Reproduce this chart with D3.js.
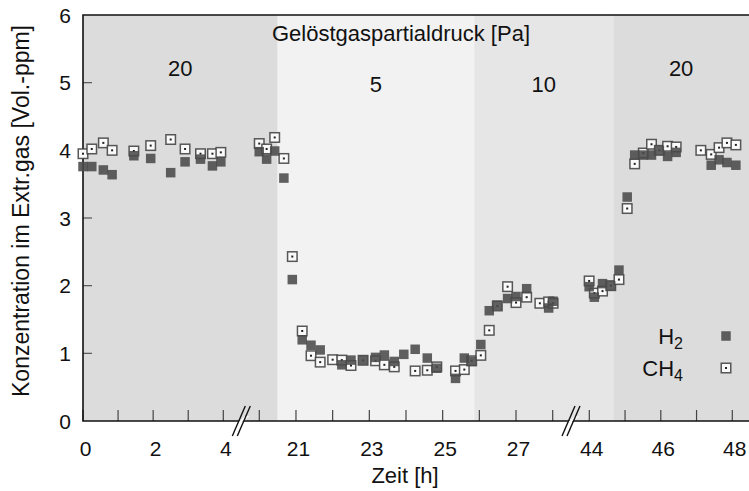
<!DOCTYPE html>
<html>
<head>
<meta charset="utf-8">
<script src="https://cdn.jsdelivr.net/npm/d3@7"></script>
<style>
  body { margin: 0; background: #fff; }
  text { font-family: "Liberation Sans", Arial, sans-serif; fill: #111; }
</style>
</head>
<body>
<script>
// Messzeitpunkte [h] (Achse mit Unterbrechungen 4..20 und 28..44)
var zeit = [0, 0.25, 0.58, 0.83, 1.45, 1.93, 2.5, 2.91, 3.35, 3.69, 3.93,
  19.97, 20.2, 20.42, 20.67, 20.9, 21.17, 21.41, 21.66, 22.0, 22.25, 22.5, 22.83, 23.17, 23.41, 23.68, 23.94,
  24.25, 24.58, 24.84, 25.35, 25.59, 25.79, 26.04, 26.27, 26.49, 26.77, 27.0, 27.29, 27.65, 27.89, 28.18,
  43.93, 44.14, 44.37, 44.6, 44.83, 45.06, 45.27, 45.51, 45.74, 45.96, 46.19, 46.43, 47.12, 47.41, 47.63, 47.85, 48.1];
var h2 = [3.76, 3.76, 3.71, 3.64, 3.92, 3.88, 3.67, 3.83, 3.87, 3.77, 3.83,
  3.98, 3.87, 3.99, 3.59, 2.09, 1.20, 1.12, 1.05, null, 0.83, 0.90, 0.90, 0.94, 0.975, 0.88, 0.985,
  1.06, 0.93, 0.78, 0.63, 0.93, 0.88, 1.13, 1.63, 1.71, 1.81, 1.84, 1.955, null, 1.67, 1.77,
  1.985, 1.83, 2.03, 2.0, 2.23, 3.31, 3.93, 3.93, 3.93, 4.0, 3.91, 3.97, null, 3.78, 3.86, 3.82, 3.78];
var ch4 = [3.95, 4.02, 4.11, 4.0, 3.99, 4.07, 4.16, 4.02, 3.95, 3.95, 3.97,
  4.1, 4.02, 4.19, 3.88, 2.43, 1.33, 0.965, 0.87, 0.906, 0.90, 0.82, 0.897, 0.89, 0.83, 0.80, null,
  0.74, 0.75, 0.80, 0.74, 0.76, 0.89, 0.97, 1.34, 1.70, 1.985, 1.75, 1.83, 1.74, 1.76, 1.74,
  2.07, 1.89, 1.92, 2.0, 2.09, 3.14, 3.80, 3.96, 4.09, 4.0, 4.06, 4.05, 4.0, 3.94, 4.04, 4.11, 4.08];

// Phasen (Gelöstgaspartialdruck)
var phaseStart = [0, 20.5, 25.86, 44.67];
var phaseLabel = ["20", "5", "10", "20"];
var phaseFill = ["#dcdcdc", "#f2f2f2", "#e6e6e6", "#dcdcdc"];

var xTicks = [0, 1, 2, 3, 4, 20, 21, 22, 23, 24, 25, 26, 27, 28, 44, 45, 46, 47, 48];
var xLabels = [0, 2, 4, 21, 23, 25, 27, 44, 46, 48];
var yTicks = [0, 1, 2, 3, 4, 5, 6];
var breaks = [[4, 20], [28, 44]]; // Unterbrechungen der Zeitachse

var width = 749, height = 491;
var plotLeft = 83, plotRight = 749, plotTop = 15, plotBottom = 421;

// stückweise lineare Zeitachse
var x = d3.scaleLinear()
    .domain([0, 4, 20, 28, 44, 48])
    .range([plotLeft, 223.3, 259.3, 552.7, 589.3, 732.3]);
var y = d3.scaleLinear().domain([0, 6]).range([plotBottom, plotTop]);
var xEnd = x.invert(plotRight);

var svg = d3.select("body").append("svg")
    .attr("width", width)
    .attr("height", height);

function phaseEnd(i) {
    return i < phaseStart.length - 1 ? phaseStart[i + 1] : xEnd;
}

//Hintergrund
svg.selectAll("rect.phase")
    .data(phaseStart)
    .enter()
    .append("rect")
    .attr("class", "phase")
    .attr("x", function (d) { return x(d); })
    .attr("y", plotTop)
    .attr("width", function (d, i) { return x(phaseEnd(i)) - x(d); })
    .attr("height", plotBottom - plotTop)
    .attr("fill", function (d, i) { return phaseFill[i]; });

svg.selectAll("text.phase")
    .data(phaseStart)
    .enter()
    .append("text")
    .attr("class", "phase")
    .attr("x", function (d, i) { return (x(d) + x(phaseEnd(i))) / 2; })
    .attr("y", function (d, i) { return phaseLabel[i] == "20" ? 76 : 92; })
    .attr("text-anchor", "middle")
    .attr("font-size", "22px")
    .text(function (d, i) { return phaseLabel[i]; });

svg.append("text")
    .attr("x", 401)
    .attr("y", 41)
    .attr("text-anchor", "middle")
    .attr("font-size", "22px")
    .text("Gelöstgaspartialdruck [Pa]");

//Ticks
svg.selectAll("line.xtick")
    .data(xTicks)
    .enter()
    .append("line")
    .attr("class", "xtick")
    .attr("x1", function (d) { return x(d); })
    .attr("x2", function (d) { return x(d); })
    .attr("y1", plotBottom)
    .attr("y2", plotBottom - 11)
    .attr("stroke", "#444")
    .attr("stroke-width", 1.2);

svg.selectAll("line.ytick")
    .data(yTicks.slice(1, -1))
    .enter()
    .append("line")
    .attr("class", "ytick")
    .attr("x1", plotLeft)
    .attr("x2", plotLeft + 9)
    .attr("y1", function (d) { return y(d); })
    .attr("y2", function (d) { return y(d); })
    .attr("stroke", "#555")
    .attr("stroke-width", 1.2);

svg.selectAll("text.xlab")
    .data(xLabels)
    .enter()
    .append("text")
    .attr("class", "xlab")
    .attr("x", function (d) { return x(d) + 2.5; })
    .attr("y", 456)
    .attr("text-anchor", "middle")
    .attr("font-size", "21px")
    .text(function (d) { return d; });

svg.selectAll("text.ylab")
    .data(yTicks)
    .enter()
    .append("text")
    .attr("class", "ylab")
    .attr("x", 71)
    .attr("y", function (d) { return y(d) + 7.5; })
    .attr("text-anchor", "end")
    .attr("font-size", "21px")
    .text(function (d) { return d; });

//Rahmen
svg.append("path")
    .attr("d", "M" + plotRight + "," + plotTop + "H" + plotLeft + "V" + plotBottom + "H" + plotRight)
    .attr("fill", "none")
    .attr("stroke", "#111")
    .attr("stroke-width", 1.6);

//Achsenunterbrechung
breaks.forEach(function (b) {
    var cx = (x(b[0]) + x(b[1])) / 2;
    var g = svg.append("g");
    g.append("path")
        .attr("d", "M" + (cx + 4) + "," + (plotBottom - 5) + "L" + (cx + 8) + "," + (plotBottom - 5) +
        "L" + (cx - 4) + "," + (plotBottom + 5) + "L" + (cx - 8) + "," + (plotBottom + 5) + "Z")
        .attr("fill", "#fff");
    [-2.5, 2.5].forEach(function (o) {
        g.append("line")
            .attr("x1", cx + o + 6.5)
            .attr("y1", plotBottom - 15)
            .attr("x2", cx + o - 6.5)
            .attr("y2", plotBottom + 15)
            .attr("stroke", "#111")
            .attr("stroke-width", 1.4);
    });
});

//Punkte
var size = 9.5;
var ch4Data = zeit.map(function (t, i) { return [t, ch4[i]]; }).filter(function (d) { return d[1] != null; });
var h2Data = zeit.map(function (t, i) { return [t, h2[i]]; }).filter(function (d) { return d[1] != null; });

function drawCH4(g, px, py) {
    g.append("rect")
        .attr("x", px - size / 2)
        .attr("y", py - size / 2)
        .attr("width", size)
        .attr("height", size)
        .attr("fill", "#fafafa")
        .attr("stroke", "#3c3c3c")
        .attr("stroke-opacity", 0.85)
        .attr("stroke-width", 1.5);
    g.append("rect")
        .attr("x", px - 1)
        .attr("y", py - 1)
        .attr("width", 2)
        .attr("height", 2)
        .attr("fill", "#222");
}
function drawH2(g, px, py) {
    g.append("rect")
        .attr("x", px - size / 2)
        .attr("y", py - size / 2)
        .attr("width", size)
        .attr("height", size)
        .attr("fill", "#4a4a4a")
        .attr("fill-opacity", 0.88);
}

var pts = svg.append("g");
ch4Data.forEach(function (d) { drawCH4(pts, x(d[0]), y(d[1])); });
h2Data.forEach(function (d) { drawH2(pts, x(d[0]), y(d[1])); });

//Legende
var legend = svg.append("g");
var legendItems = [["H", "2", drawH2], ["CH", "4", drawCH4]];
legendItems.forEach(function (item, i) {
    var ly = 336 + i * 32;
    var t = legend.append("text")
        .attr("x", 683)
        .attr("y", ly + 8)
        .attr("text-anchor", "end")
        .attr("font-size", "22px");
    t.append("tspan").text(item[0]);
    t.append("tspan").attr("font-size", "16px").attr("dy", 5).text(item[1]);
    item[2](legend, 726, ly);
});

//Achsentitel
svg.append("text")
    .attr("x", 405)
    .attr("y", 483)
    .attr("text-anchor", "middle")
    .attr("font-size", "22px")
    .text("Zeit [h]");

svg.append("text")
    .attr("transform", "translate(28.5," + 211 + ") rotate(-90)")
    .attr("text-anchor", "middle")
    .attr("font-size", "23px")
    .text("Konzentration im Extr.gas [Vol.-ppm]");
</script>
</body>
</html>
